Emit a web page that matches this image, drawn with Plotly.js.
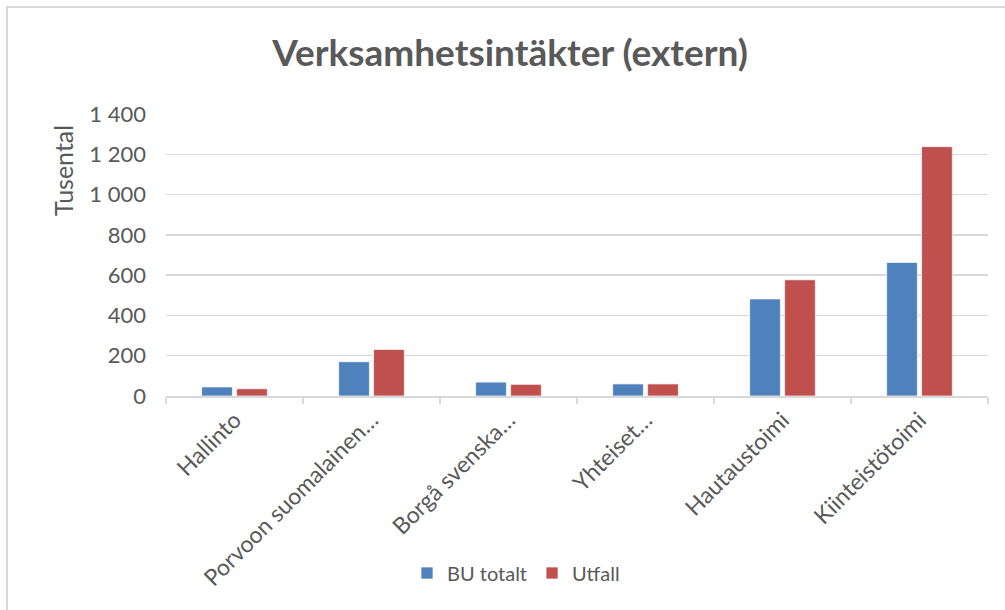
<!DOCTYPE html>
<html>
<head>
<meta charset="utf-8">
<script src="https://cdn.plot.ly/plotly-3.0.1.min.js"></script>
<style>
  html, body { margin: 0; padding: 0; background: #fff; }
  #chart { width: 1005px; height: 610px; position: relative; }
  #frame {
    position: absolute; left: 6px; top: 6px; width: 1010px; height: 620px;
    border-left: 2px solid #d9d9d9; border-top: 2px solid #d9d9d9;
    pointer-events: none;
  }
</style>
</head>
<body>
<div id="chart"></div>
<div id="frame"></div>
<script>
// categories as shown (Excel truncates the long ones)
const categories = [
  'Hallinto',
  'Porvoon suomalainen…',
  'Borgå svenska…',
  'Yhteiset…',
  'Hautaustoimi',
  'Kiinteistötoimi'
];

// values in thousands
const buTotalt = [45, 170, 69, 60, 482, 663];
const utfall = [36, 231, 58, 60, 577, 1238];

const yTicks = [0, 200, 400, 600, 800, 1000, 1200, 1400];

const textColor = '#595959';
const gridColor = '#d9d9d9';
const font = 'Lato, "Open Sans", sans-serif';

const data = [
  {
    type: 'bar',
    name: 'BU totalt',
    x: categories,
    y: buTotalt,
    marker: { color: '#4F81BD', line: { color: 'rgba(255,255,255,0.7)', width: 1 } }
  },
  {
    type: 'bar',
    name: 'Utfall',
    x: categories,
    y: utfall,
    marker: { color: '#C0504D', line: { color: 'rgba(255,255,255,0.7)', width: 1 } }
  }
];

const layout = {
  width: 1005,
  height: 610,
  margin: { l: 166, r: 17, t: 114, b: 214 },
  paper_bgcolor: '#fff',
  plot_bgcolor: '#fff',
  separators: ', ',
  font: { family: font, color: textColor, size: 20 },
  barmode: 'group',
  bargap: 0.49,
  bargroupgap: 0.12,
  title: {
    text: '<b>Verksamhetsintäkter (extern)</b>',
    font: { family: font, size: 37, color: textColor },
    x: 510 / 1005,
    xanchor: 'center',
    xref: 'container',
    y: 1 - 53 / 610,
    yanchor: 'middle',
    yref: 'container'
  },
  xaxis: {
    type: 'category',
    tickangle: -45,
    tickson: 'boundaries',
    ticks: 'outside',
    ticklen: 6,
    tickcolor: gridColor,
    tickwidth: 1.5,
    showline: true,
    linecolor: gridColor,
    linewidth: 1.5,
    showgrid: false,
    tickfont: { size: 23, color: textColor }
  },
  yaxis: {
    range: [0, 1400],
    tickvals: yTicks,
    tickformat: ',d',
    showgrid: true,
    gridcolor: gridColor,
    gridwidth: 1.5,
    zeroline: false,
    showline: false,
    ticks: '',
    ticklabelstandoff: 19,
    tickfont: { size: 22, color: textColor }
  },
  annotations: [{
    text: 'Tusental',
    xref: 'paper', yref: 'paper',
    x: (63 - 166) / 822, y: (396 - 170) / 282,
    xanchor: 'center', yanchor: 'middle',
    textangle: -90,
    showarrow: false,
    font: { size: 25, color: textColor }
  }],
  showlegend: true,
  legend: {
    orientation: 'h',
    x: (516 - 166) / 822,
    xanchor: 'center',
    y: (396 - 573) / 282,
    yanchor: 'middle',
    font: { size: 20, color: textColor },
    itemwidth: 30,
    traceorder: 'normal'
  }
};

Plotly.newPlot('chart', data, layout, { displayModeBar: false, staticPlot: true });
</script>
</body>
</html>
